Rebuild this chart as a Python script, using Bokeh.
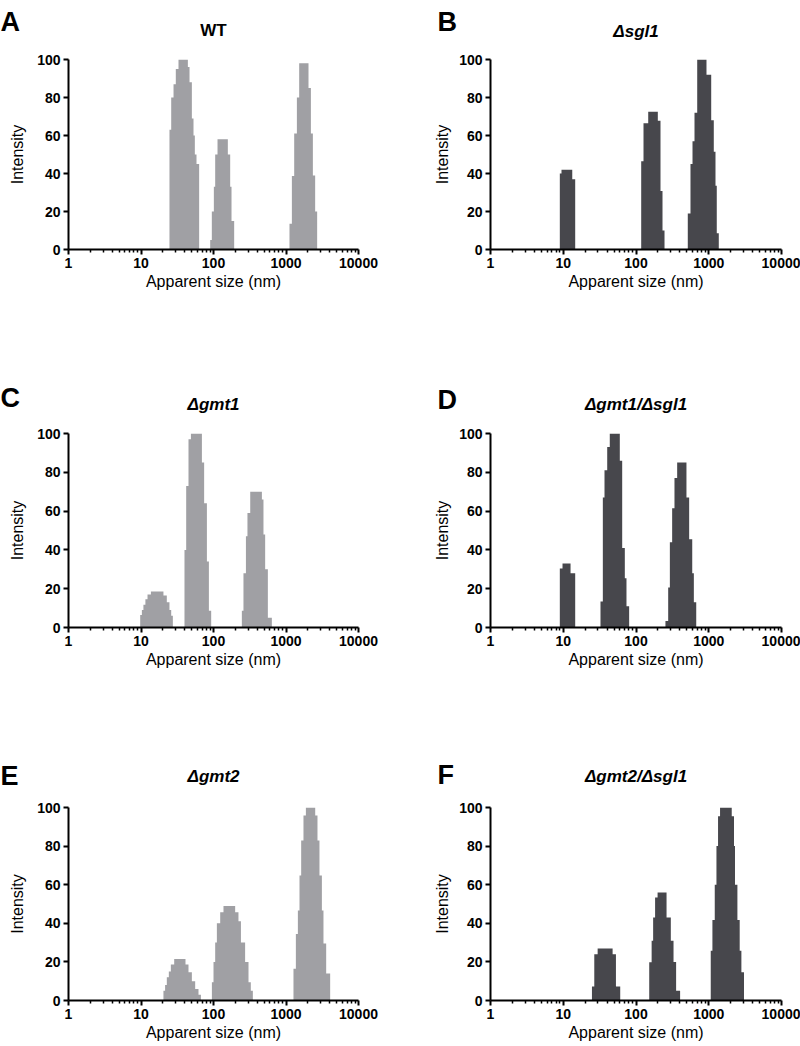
from bokeh.plotting import figure
from bokeh.layouts import column, row
from bokeh.models import FixedTicker, NumeralTickFormatter, Range1d
from bokeh.core.properties import value
from bokeh.embed import file_html
from bokeh.resources import INLINE

x_ticks = [1, 10, 100, 1000, 10000]
y_ticks = [0, 20, 40, 60, 80, 100]
x_minor = [m * d for d in [1, 10, 100, 1000] for m in range(2, 10)]

# ---- data: bin edges (nm) and intensities per peak ----
wt_edges = [
    [24.7, 26.1, 28.1, 30.2, 32.9, 44.3, 46.7, 50.3, 53.0, 55.3, 58.3, 63.4],
    [90.0, 94.8, 101.1, 105.5, 113.6, 157.7, 169.9, 177.2, 192.8],
    [1117, 1205, 1297, 1413, 1520, 2044, 2205, 2348, 2525, 2690],
]
wt_heights = [
    [63, 80, 87, 95, 100, 96, 88, 69, 60, 50, 45],
    [5, 20, 33, 50, 58, 50, 33, 15],
    [13.6, 38.7, 61, 80, 98, 85, 61, 39, 20],
]

sgl1_edges = [
    [8.97, 9.46, 13.3, 14.6],
    [117.9, 126.8, 147.2, 199.5, 217.2, 231.4, 246.6],
    [515, 561, 598, 637, 694, 931, 1081, 1173, 1238, 1289, 1374],
]
sgl1_heights = [
    [40, 42, 37],
    [46.5, 66.5, 72.5, 67.7, 30.8, 10],
    [19, 45, 57, 72, 100, 92, 68, 51.5, 33.5, 8.6],
]

gmt1_edges = [
    [9.75, 10.28, 10.8, 11.5, 12.3, 13.7, 20.4, 22.7, 24.7, 26.1, 27.5],
    [39.8, 42.0, 45.2, 48.8, 69.2, 74.3, 81.1, 86.4, 92.9],
    [246, 259, 280, 294, 321, 465, 489, 516, 562, 638],
]
gmt1_heights = [
    [6.4, 9, 11.7, 14.6, 17, 18.6, 16.5, 13, 9, 6],
    [40, 73, 97, 100, 85, 64, 34, 8.6],
    [8.6, 28, 47, 59, 70, 66, 48, 30, 5],
]

gmt1_sgl1_edges = [
    [8.97, 9.77, 12.6, 14.6],
    [32.5, 35.0, 36.9, 40.2, 43.6, 59.9, 64.6, 70.2, 74.0, 80.5],
    [254, 277, 292, 314, 338, 368, 494, 538, 593, 624, 673],
]
gmt1_sgl1_heights = [
    [30.4, 33, 28],
    [13.4, 67, 81, 93, 100, 86, 41, 25.4, 11],
    [3.4, 20.6, 44, 61.5, 77, 85, 67, 45.5, 28, 13],
]

gmt2_edges = [
    [20.4, 21.5, 22.7, 24.2, 25.8, 28.7, 41.1, 45.2, 50.3, 55.9, 62.1, 67.0],
    [95.0, 100, 105.5, 111.3, 123.7, 137.3, 199, 221, 239, 273, 304, 327, 349],
    [1268, 1368, 1458, 1535, 1619, 1742, 1880, 2529, 2718, 2896, 3126, 3288, 3583, 4066],
]
gmt2_heights = [
    [5, 8, 12, 15, 18.6, 21.5, 18.6, 14.6, 10, 6, 3],
    [9.5, 20, 30, 40, 45.7, 49, 45.7, 41, 30, 20, 9.5, 5],
    [16.4, 34.5, 46.6, 64.8, 82.9, 95.9, 100, 95.9, 82.9, 64.8, 46.6, 29.5, 14],
]

gmt2_sgl1_edges = [
    [24.8, 26.7, 29.7, 47.7, 53.0, 60.7],
    [152, 164, 172, 183, 198, 263, 301, 328, 356, 404],
    [1065, 1123, 1209, 1276, 1342, 1430, 2070, 2222, 2295, 2477, 2663, 2810, 3050],
]
gmt2_sgl1_heights = [
    [7.2, 24, 27, 24, 7.2],
    [19.8, 31, 43, 53.4, 56, 43, 31, 20, 5],
    [25.8, 41.7, 60, 80, 95.5, 100, 95.5, 80, 60, 41.7, 25.8, 14.6],
]

titles = ["WT", "\u0394sgl1", "\u0394gmt1", "\u0394gmt1/\u0394sgl1", "\u0394gmt2", "\u0394gmt2/\u0394sgl1"]
letters = ["A", "B", "C", "D", "E", "F"]

LIGHT = "#a0a0a4"
DARK = "#47474c"
FONT = "Liberation Sans"


def step_polys(edges_list, heights_list):
    xs_all, ys_all = [], []
    for e, h in zip(edges_list, heights_list):
        xs, ys = [e[0]], [0]
        for i in range(len(h)):
            xs += [e[i], e[i + 1]]
            ys += [h[i], h[i]]
        xs.append(e[-1])
        ys.append(0)
        xs_all.append(xs)
        ys_all.append(ys)
    return xs_all, ys_all


def make_header(height, left_letter, left_title, right_letter, right_title,
                letter_base, title_base):
    h = figure(width=800, height=height, x_range=Range1d(0, 800), y_range=Range1d(height, 0),
               min_border=0, x_axis_location=None, y_axis_location=None,
               output_backend="svg", toolbar_location=None, title=None)
    h.xgrid.visible = False
    h.ygrid.visible = False
    h.outline_line_color = None
    h.text(x=[0, 437], y=[letter_base[0], letter_base[1]], text=[left_letter, right_letter],
           text_font=value(FONT), text_font_style="bold", text_font_size="27px",
           text_align="left", text_baseline="alphabetic", text_color="black")
    for tx, tb, tt in [(213, title_base[0], left_title), (635.5, title_base[1], right_title)]:
        style = "bold" if tt == "WT" else "bold italic"
        h.text(x=[tx], y=[tb], text=[tt], text_font=value(FONT), text_font_style=style,
               text_font_size="17px", text_align="center", text_baseline="alphabetic",
               text_color="black")
    return h


def make_panel(edges, heights, color, left_side, height, top, frame_h):
    if left_side:
        bl, br, ystand = 68, 42, 8
    else:
        bl, br, ystand = 90, 19, 5
    p = figure(x_axis_type="log", x_range=(1, 10000), y_range=(0, 100),
               width=400, height=height,
               min_border_left=bl, min_border_right=br,
               min_border_top=top, min_border_bottom=height - top - frame_h,
               output_backend="svg", toolbar_location=None, title=None)
    p.xgrid.visible = False
    p.ygrid.visible = False
    p.outline_line_color = None

    xs, ys = step_polys(edges, heights)
    p.patches(xs, ys, fill_color=color, line_color=None)

    xa = p.xaxis[0]
    xa.ticker = FixedTicker(ticks=x_ticks, minor_ticks=x_minor)
    xa.formatter = NumeralTickFormatter(format="0")
    xa.axis_label = "Apparent size (nm)"
    xa.axis_label_standoff = 2
    ya = p.yaxis[0]
    ya.ticker = FixedTicker(ticks=y_ticks)
    ya.axis_label = "Intensity"
    ya.axis_label_standoff = ystand
    ya.minor_tick_line_color = None
    for ax in (xa, ya):
        ax.axis_line_width = 2
        ax.axis_line_color = "black"
        ax.major_tick_line_width = 2
        ax.major_tick_in = 0
        ax.major_tick_out = 5
        ax.minor_tick_in = 0
        ax.minor_tick_out = 3
        ax.minor_tick_line_width = 1.5
        ax.major_label_standoff = 3
        ax.major_label_text_font = FONT
        ax.major_label_text_font_style = "bold"
        ax.major_label_text_font_size = "14px"
        ax.major_label_text_color = "black"
        ax.axis_label_text_font = FONT
        ax.axis_label_text_font_style = "normal"
        ax.axis_label_text_font_size = "16px"
        ax.axis_label_text_color = "black"
    return p


h1 = make_header(40, letters[0], titles[0], letters[1], titles[1], (21, 21), (30, 31))
pA = make_panel(wt_edges, wt_heights, LIGHT, True, 335, 18, 191)
pB = make_panel(sgl1_edges, sgl1_heights, DARK, False, 335, 19, 194)
h2 = make_header(40, letters[2], titles[2], letters[3], titles[3], (22, 24), (29, 29))
pC = make_panel(gmt1_edges, gmt1_heights, LIGHT, True, 335, 18, 194)
pD = make_panel(gmt1_sgl1_edges, gmt1_sgl1_heights, DARK, False, 335, 18, 194)
h3 = make_header(40, letters[4], titles[4], letters[5], titles[5], (25, 24), (26, 26))
pE = make_panel(gmt2_edges, gmt2_heights, LIGHT, True, 256, 17, 193)
pF = make_panel(gmt2_sgl1_edges, gmt2_sgl1_heights, DARK, False, 256, 17, 193)

layout = column(h1, row(pA, pB), h2, row(pC, pD), h3, row(pE, pF))
open("out.html", "w").write(file_html(layout, INLINE))
